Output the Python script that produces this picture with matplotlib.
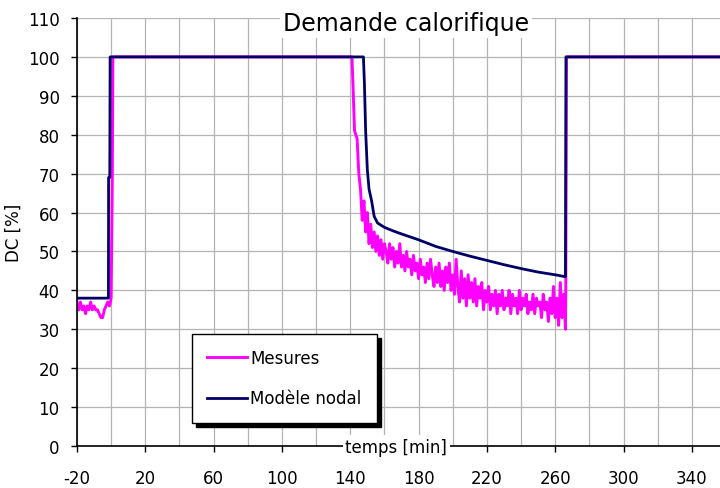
import matplotlib
matplotlib.use('Agg')
import matplotlib.pyplot as plt

plt.rcParams['axes.unicode_minus'] = False

# Mesures : palier avant la mise en route, t = -20..0 min (pas 1 min)
mes_bas = [37, 35, 37, 35, 36, 34, 36, 35, 37, 35, 36, 35, 35, 34, 33, 33, 35, 36, 37, 36, 38]

# Mesures : transitions (temps en min, DC en %)
mes_montee_t = [0.4, 0.7, 1.0, 141.0, 141.5, 142.5, 144.0, 145.0]
mes_montee = [58, 70, 100, 100, 94, 81, 79, 70]

# Mesures : décroissance après la coupure, t = 146..266 min (pas 1 min)
mes_decr = [66, 58, 63, 55, 60, 52, 57, 51, 55, 50,
            54, 49, 53, 48, 52, 50, 47, 52, 48, 51,
            46, 50, 47, 52, 46, 49, 45, 50, 46, 48,
            44, 49, 45, 47, 43, 48, 44, 46, 42, 47,
            43, 48, 44, 41, 46, 42, 47, 41, 45, 40,
            46, 42, 47, 40, 44, 39, 48, 41, 37, 45,
            38, 43, 36, 44, 38, 42, 37, 43, 36, 41,
            38, 42, 35, 40, 37, 41, 35, 39, 36, 40,
            34, 39, 36, 40, 35, 38, 36, 40, 34, 39,
            36, 38, 34, 40, 35, 38, 36, 39, 34, 37,
            35, 39, 34, 38, 36, 37, 33, 39, 35, 37,
            32, 38, 34, 41, 33, 38, 31, 42, 33, 39,
            30]

# Mesures : remontée finale
mes_fin_t = [266.2, 266.4, 266.6, 360.0]
mes_fin = [42, 70, 100, 100]

# Modèle nodal
mod_t = [-20, -1.6, -1.5, -0.8, -0.6, 147.7, 148.3, 149, 150, 151, 152.5, 154, 156,
         160, 165, 170, 180, 190, 200, 210, 220, 230, 240, 250, 260, 266, 266.3, 360]
mod = [38, 38, 69, 69, 100, 100, 93, 81, 71, 66, 63, 59, 57.3,
       56.2, 55.3, 54.5, 53, 51.3, 50, 48.8, 47.7, 46.6, 45.6, 44.7, 44, 43.5, 100, 100]

t_mes = list(range(-20, 1)) + mes_montee_t + list(range(146, 267)) + mes_fin_t
y_mes = mes_bas + mes_montee + mes_decr + mes_fin

x_labels = list(range(-20, 341, 40))
y_ticks = list(range(0, 111, 10))

fig = plt.figure(figsize=(7.2, 4.89), dpi=100)
ax = fig.add_axes([77 / 720, 42 / 489, 649 / 720, 428 / 489])

ax.plot(t_mes, y_mes, color='#ff00ff', lw=2.1, label='Mesures')
ax.plot(mod_t, mod, color='#000066', lw=2.0, label='Modèle nodal')

ax.set_xlim(-20, 360)
ax.set_ylim(0, 110)
ax.set_xticks(x_labels)
ax.set_xticks(list(range(0, 361, 40)), minor=True)
ax.set_yticks(y_ticks)
ax.grid(True, which='both', color='#b4b4b4', lw=0.9)
ax.set_axisbelow(True)
ax.tick_params(axis='x', which='major', length=4.3, width=1, pad=12, labelsize=12)
ax.tick_params(axis='x', which='minor', length=0)
ax.tick_params(axis='y', length=4, width=1, pad=8.5, labelsize=12)

for s in ['top', 'right']:
    ax.spines[s].set_visible(False)
for s in ['left', 'bottom']:
    ax.spines[s].set_linewidth(1.2)
    ax.spines[s].set_color('black')

ax.set_ylabel('DC [%]', fontsize=12, labelpad=4)
ax.text(167, -0.3, 'temps [min]', fontsize=12, ha='center', va='center',
        bbox=dict(facecolor='white', edgecolor='none', pad=2), clip_on=False, zorder=5)
ax.text(172.5, 108.7, 'Demande calorifique', fontsize=17, ha='center', va='center',
        bbox=dict(facecolor='white', edgecolor='none', pad=2), clip_on=False, zorder=5)

leg = ax.legend(loc='upper left', bbox_to_anchor=(192 / 720, 1 - 335 / 489),
                bbox_transform=fig.transFigure, borderaxespad=0, fontsize=12,
                fancybox=False, framealpha=1, edgecolor='black',
                shadow={'color': 'black', 'alpha': 1, 'ox': 3, 'oy': -3},
                borderpad=0.9, labelspacing=1.35, handlelength=2.4, handletextpad=0.2)
leg.get_frame().set_linewidth(1.0)

fig.savefig('out.png', dpi=100)
